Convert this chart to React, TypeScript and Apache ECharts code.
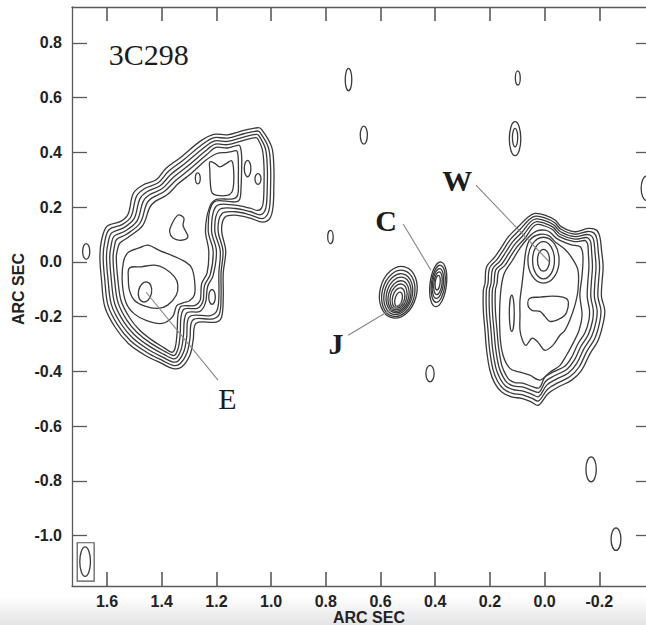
import React, { useEffect, useRef } from "react";
import * as echarts from "echarts";

// Axis ticks (arc sec)
const X_TICKS = [1.6, 1.4, 1.2, 1.0, 0.8, 0.6, 0.4, 0.2, 0.0, -0.2];
const Y_TICKS = [0.8, 0.6, 0.4, 0.2, 0.0, -0.2, -0.4, -0.6, -0.8, -1.0];
const X_MIN = -0.389;
const X_MAX = 1.728;
const Y_MIN = -1.184;
const Y_MAX = 0.931;

// ---- Eastern lobe (E) contours, [RA offset, Dec offset] in arc sec ----
const E_L1 = [[1.035,0.484],[0.998,0.420],[0.990,0.347],[0.990,0.274],[0.993,0.201],[1.004,0.160],[1.030,0.145],[1.077,0.160],[1.132,0.171],[1.169,0.163],[1.181,0.116],[1.166,0.040],[1.175,-0.041],[1.175,-0.129],[1.181,-0.202],[1.201,-0.220],[1.274,-0.224],[1.285,-0.286],[1.297,-0.341],[1.327,-0.384],[1.358,-0.390],[1.400,-0.371],[1.461,-0.341],[1.522,-0.298],[1.571,-0.238],[1.608,-0.164],[1.620,-0.067],[1.626,0.018],[1.620,0.079],[1.600,0.130],[1.550,0.148],[1.523,0.174],[1.504,0.250],[1.470,0.280],[1.420,0.300],[1.384,0.342],[1.330,0.382],[1.259,0.441],[1.210,0.466],[1.160,0.464],[1.100,0.480],[1.050,0.490]];
const E_L2 = [[1.040,0.472],[1.010,0.418],[1.002,0.347],[1.002,0.274],[1.005,0.205],[1.014,0.172],[1.034,0.158],[1.077,0.172],[1.132,0.183],[1.180,0.176],[1.194,0.116],[1.176,0.040],[1.183,-0.041],[1.183,-0.129],[1.189,-0.190],[1.212,-0.208],[1.286,-0.212],[1.297,-0.282],[1.308,-0.333],[1.333,-0.372],[1.358,-0.378],[1.398,-0.360],[1.457,-0.329],[1.514,-0.288],[1.560,-0.232],[1.596,-0.160],[1.608,-0.067],[1.614,0.018],[1.608,0.075],[1.592,0.118],[1.545,0.136],[1.512,0.166],[1.492,0.240],[1.462,0.268],[1.413,0.289],[1.375,0.331],[1.322,0.371],[1.252,0.429],[1.208,0.454],[1.160,0.452],[1.100,0.468],[1.052,0.478]];
const E_L3 = [[1.044,0.460],[1.021,0.414],[1.014,0.347],[1.014,0.274],[1.017,0.210],[1.024,0.184],[1.040,0.172],[1.077,0.184],[1.132,0.195],[1.190,0.190],[1.206,0.116],[1.186,0.040],[1.191,-0.041],[1.191,-0.129],[1.198,-0.178],[1.222,-0.196],[1.298,-0.200],[1.309,-0.278],[1.318,-0.325],[1.338,-0.360],[1.358,-0.366],[1.395,-0.349],[1.452,-0.318],[1.506,-0.278],[1.549,-0.226],[1.584,-0.156],[1.596,-0.067],[1.602,0.018],[1.596,0.070],[1.583,0.106],[1.540,0.124],[1.501,0.158],[1.480,0.230],[1.454,0.256],[1.406,0.278],[1.366,0.320],[1.314,0.360],[1.246,0.417],[1.206,0.442],[1.160,0.440],[1.100,0.456],[1.054,0.466]];
const E_L4 = [[1.048,0.448],[1.032,0.410],[1.026,0.347],[1.026,0.274],[1.029,0.215],[1.036,0.195],[1.050,0.188],[1.077,0.196],[1.132,0.207],[1.200,0.204],[1.218,0.116],[1.200,0.040],[1.212,-0.050],[1.232,-0.090],[1.238,-0.140],[1.246,-0.165],[1.262,-0.182],[1.310,-0.188],[1.321,-0.274],[1.328,-0.317],[1.343,-0.348],[1.358,-0.354],[1.392,-0.338],[1.447,-0.307],[1.498,-0.268],[1.538,-0.220],[1.572,-0.152],[1.584,-0.067],[1.590,0.018],[1.584,0.065],[1.574,0.094],[1.535,0.112],[1.490,0.150],[1.468,0.220],[1.446,0.244],[1.399,0.267],[1.357,0.309],[1.306,0.349],[1.240,0.405],[1.204,0.430],[1.160,0.428],[1.100,0.444],[1.056,0.454]];
const E_L5 = [[1.115,0.425],[1.108,0.390],[1.108,0.330],[1.110,0.270],[1.115,0.228],[1.132,0.219],[1.210,0.218],[1.230,0.116],[1.212,0.040],[1.222,-0.045],[1.243,-0.085],[1.248,-0.140],[1.256,-0.158],[1.270,-0.170],[1.322,-0.176],[1.333,-0.270],[1.338,-0.309],[1.348,-0.336],[1.358,-0.342],[1.389,-0.327],[1.442,-0.296],[1.490,-0.258],[1.527,-0.214],[1.560,-0.148],[1.572,-0.067],[1.578,0.018],[1.572,0.060],[1.565,0.082],[1.530,0.100],[1.479,0.142],[1.456,0.210],[1.438,0.232],[1.392,0.256],[1.348,0.298],[1.298,0.338],[1.234,0.393],[1.202,0.418],[1.160,0.416],[1.130,0.424]];
const E_L6 = [[1.125,0.405],[1.120,0.370],[1.120,0.300],[1.122,0.245],[1.140,0.230],[1.200,0.228],[1.225,0.200],[1.240,0.116],[1.228,0.040],[1.234,-0.040],[1.254,-0.080],[1.258,-0.135],[1.266,-0.150],[1.282,-0.160],[1.333,-0.166],[1.344,-0.262],[1.348,-0.300],[1.355,-0.325],[1.365,-0.330],[1.388,-0.316],[1.437,-0.285],[1.482,-0.248],[1.516,-0.206],[1.548,-0.144],[1.560,-0.067],[1.566,0.018],[1.560,0.052],[1.552,0.070],[1.522,0.090],[1.470,0.132],[1.444,0.198],[1.425,0.220],[1.380,0.245],[1.340,0.285],[1.290,0.325],[1.240,0.370],[1.200,0.395],[1.160,0.400],[1.140,0.404]];
const E_L7 = [[1.540,-0.001],[1.522,0.035],[1.480,0.052],[1.450,0.061],[1.403,0.039],[1.363,0.024],[1.312,-0.001],[1.290,-0.023],[1.280,-0.067],[1.280,-0.120],[1.298,-0.142],[1.322,-0.150],[1.345,-0.160],[1.360,-0.200],[1.399,-0.225],[1.455,-0.215],[1.500,-0.190],[1.530,-0.150],[1.544,-0.078]];
const E_L8 = [[1.518,-0.022],[1.475,-0.018],[1.426,-0.012],[1.389,-0.024],[1.353,-0.055],[1.341,-0.085],[1.347,-0.122],[1.378,-0.158],[1.414,-0.170],[1.461,-0.162],[1.500,-0.140],[1.518,-0.103],[1.522,-0.060]];
const E_NE_KNOT = [[1.224,0.365],[1.206,0.360],[1.188,0.347],[1.163,0.360],[1.144,0.369],[1.137,0.335],[1.137,0.285],[1.143,0.255],[1.160,0.243],[1.198,0.243],[1.216,0.252],[1.222,0.285],[1.224,0.335]];
const E_BLOB = [[1.340,0.171],[1.365,0.134],[1.371,0.110],[1.359,0.087],[1.329,0.079],[1.304,0.091],[1.315,0.116],[1.322,0.134],[1.319,0.160]];

// ---- Western lobe (W) contours ----
const W_L1 = [[0.035,0.177],[-0.001,0.171],[-0.038,0.153],[-0.062,0.128],[-0.111,0.110],[-0.159,0.122],[-0.190,0.116],[-0.202,0.091],[-0.208,0.043],[-0.214,-0.018],[-0.210,-0.074],[-0.208,-0.128],[-0.220,-0.177],[-0.214,-0.225],[-0.196,-0.286],[-0.166,-0.335],[-0.135,-0.396],[-0.099,-0.432],[-0.050,-0.457],[-0.013,-0.481],[0.023,-0.524],[0.048,-0.512],[0.084,-0.499],[0.121,-0.493],[0.157,-0.475],[0.182,-0.444],[0.200,-0.396],[0.212,-0.323],[0.218,-0.250],[0.224,-0.177],[0.224,-0.103],[0.218,-0.079],[0.212,-0.018],[0.182,0.018],[0.157,0.055],[0.133,0.091],[0.097,0.128],[0.060,0.164]];
const W_L2 = [[0.033,0.167],[-0.001,0.161],[-0.036,0.144],[-0.060,0.119],[-0.111,0.101],[-0.157,0.111],[-0.181,0.105],[-0.191,0.084],[-0.196,0.040],[-0.201,-0.018],[-0.197,-0.074],[-0.195,-0.128],[-0.206,-0.177],[-0.201,-0.222],[-0.184,-0.279],[-0.155,-0.326],[-0.126,-0.384],[-0.093,-0.419],[-0.046,-0.443],[-0.010,-0.466],[0.022,-0.508],[0.047,-0.498],[0.083,-0.485],[0.118,-0.480],[0.150,-0.464],[0.172,-0.436],[0.189,-0.392],[0.201,-0.321],[0.207,-0.250],[0.213,-0.177],[0.213,-0.103],[0.207,-0.079],[0.201,-0.022],[0.173,0.010],[0.149,0.046],[0.125,0.082],[0.090,0.118],[0.056,0.155]];
const W_L3 = [[0.031,0.157],[-0.001,0.151],[-0.034,0.135],[-0.058,0.110],[-0.111,0.092],[-0.155,0.100],[-0.172,0.094],[-0.180,0.077],[-0.184,0.037],[-0.188,-0.018],[-0.184,-0.074],[-0.182,-0.128],[-0.192,-0.177],[-0.188,-0.219],[-0.172,-0.272],[-0.144,-0.317],[-0.117,-0.372],[-0.087,-0.406],[-0.042,-0.429],[-0.007,-0.451],[0.021,-0.492],[0.046,-0.484],[0.082,-0.471],[0.115,-0.467],[0.143,-0.453],[0.162,-0.428],[0.178,-0.388],[0.190,-0.319],[0.196,-0.250],[0.202,-0.177],[0.202,-0.103],[0.196,-0.079],[0.190,-0.026],[0.164,0.002],[0.141,0.037],[0.117,0.073],[0.083,0.108],[0.052,0.146]];
const W_L4 = [[0.029,0.147],[-0.001,0.141],[-0.032,0.126],[-0.056,0.101],[-0.110,0.083],[-0.152,0.089],[-0.163,0.083],[-0.169,0.070],[-0.172,0.034],[-0.175,-0.018],[-0.171,-0.074],[-0.169,-0.128],[-0.178,-0.177],[-0.175,-0.216],[-0.160,-0.265],[-0.133,-0.308],[-0.108,-0.360],[-0.081,-0.393],[-0.038,-0.415],[-0.004,-0.436],[0.020,-0.476],[0.045,-0.470],[0.081,-0.457],[0.112,-0.454],[0.136,-0.442],[0.152,-0.420],[0.167,-0.384],[0.179,-0.317],[0.185,-0.250],[0.191,-0.177],[0.191,-0.103],[0.185,-0.079],[0.179,-0.030],[0.155,-0.006],[0.133,0.028],[0.109,0.064],[0.076,0.100],[0.048,0.136]];
const W_L5 = [[0.027,0.137],[-0.001,0.131],[-0.030,0.117],[-0.054,0.092],[-0.108,0.074],[-0.148,0.078],[-0.154,0.072],[-0.158,0.063],[-0.160,0.031],[-0.162,-0.018],[-0.158,-0.074],[-0.156,-0.128],[-0.164,-0.177],[-0.162,-0.213],[-0.148,-0.258],[-0.122,-0.299],[-0.099,-0.348],[-0.075,-0.380],[-0.034,-0.401],[-0.001,-0.421],[0.019,-0.460],[0.044,-0.456],[0.080,-0.443],[0.109,-0.441],[0.129,-0.431],[0.142,-0.412],[0.156,-0.380],[0.168,-0.315],[0.174,-0.250],[0.180,-0.177],[0.180,-0.103],[0.174,-0.079],[0.168,-0.034],[0.146,-0.014],[0.125,0.019],[0.101,0.055],[0.069,0.090],[0.044,0.126]];
const W_L6 = [[0.030,0.112],[-0.001,0.116],[-0.020,0.108],[-0.045,0.085],[-0.095,0.063],[-0.130,0.055],[-0.140,0.024],[-0.137,-0.049],[-0.129,-0.122],[-0.137,-0.195],[-0.126,-0.250],[-0.100,-0.305],[-0.080,-0.341],[-0.056,-0.378],[-0.019,-0.403],[0.017,-0.432],[0.054,-0.414],[0.090,-0.403],[0.127,-0.389],[0.152,-0.341],[0.163,-0.268],[0.163,-0.140],[0.150,-0.049],[0.118,0.005],[0.090,0.050],[0.060,0.088]];
const W_L7 = [[0.054,0.080],[0.020,0.100],[-0.015,0.096],[-0.040,0.072],[-0.074,0.046],[-0.100,0.014],[-0.122,-0.030],[-0.122,-0.103],[-0.111,-0.158],[-0.092,-0.213],[-0.074,-0.250],[-0.056,-0.268],[-0.030,-0.305],[-0.001,-0.323],[0.024,-0.294],[0.046,-0.279],[0.068,-0.305],[0.081,-0.286],[0.090,-0.250],[0.090,-0.195],[0.090,-0.140],[0.083,-0.085],[0.076,-0.023],[0.068,0.043]];
const W_BLOB = [[0.054,-0.133],[0.017,-0.129],[-0.027,-0.125],[-0.067,-0.129],[-0.085,-0.140],[-0.085,-0.169],[-0.074,-0.195],[-0.045,-0.213],[-0.019,-0.217],[-0.001,-0.199],[0.017,-0.181],[0.046,-0.177],[0.061,-0.158]];

const CONTOURS = [E_L1, E_L2, E_L3, E_L4, E_L5, E_L6, E_L7, E_L8, E_NE_KNOT, E_BLOB,
  W_L1, W_L2, W_L3, W_L4, W_L5, W_L6, W_L7, W_BLOB];

// Elliptical contours: [centre x, centre y, semi-axis x, semi-axis y, tilt (rad)]
const J_RINGS = [[0.535,-0.111,0.067,0.096,-0.25],[0.535,-0.115,0.059,0.086,-0.25],[0.535,-0.118,0.051,0.076,-0.25],[0.534,-0.121,0.044,0.066,-0.25],[0.534,-0.125,0.037,0.057,-0.25],[0.534,-0.128,0.030,0.048,-0.25],[0.534,-0.132,0.022,0.038,-0.25],[0.534,-0.137,0.013,0.027,-0.25]];
const C_RINGS = [[0.389,-0.082,0.030,0.082,-0.12],[0.389,-0.080,0.025,0.068,-0.12],[0.390,-0.079,0.020,0.055,-0.12],[0.390,-0.078,0.015,0.042,-0.12],[0.391,-0.076,0.009,0.027,-0.12]];
const W_CORE = [[0.004,0.006,0.022,0.040,0],[0.004,0.006,0.040,0.068,0],[0.004,0.006,0.057,0.084,0]];
const E_SPOTS = [[1.461,-0.110,0.024,0.037,-0.2],[1.216,-0.128,0.012,0.027,0],[1.086,0.341,0.012,0.030,0],[1.048,0.303,0.011,0.0195,0],[1.268,0.305,0.009,0.020,0]];
const W_SPOTS = [[0.120,-0.188,0.009,0.066,0]];
const NOISE = [[0.717,0.666,0.012,0.041,0],[0.661,0.463,0.013,0.033,0],[0.098,0.672,0.009,0.026,0],[0.108,0.450,0.021,0.062,0],[0.108,0.454,0.0097,0.0335,0],[0.783,0.091,0.010,0.024,0],[1.676,0.038,0.013,0.029,0],[-0.373,0.269,0.020,0.045,0],[0.419,-0.408,0.015,0.030,0],[-0.170,-0.758,0.019,0.046,0],[-0.261,-1.013,0.018,0.041,0]];
const BEAM = [[1.680,-1.095,0.0195,0.0536,0]];
const BEAM_BOX = [[1.709,-1.026],[1.647,-1.026],[1.647,-1.166],[1.709,-1.166]];

const ELLIPSES = [...J_RINGS, ...C_RINGS, ...W_CORE, ...E_SPOTS, ...W_SPOTS, ...NOISE, ...BEAM];

// Leader lines [x1, y1, x2, y2]
const LEADERS = [[1.457,-0.111,1.194,-0.432],[0.718,-0.268,0.514,-0.146],[0.517,0.138,0.416,-0.030],[0.251,0.280,-0.017,0.000]];

// Labels [x, y]
const LABEL_TEXT = ["3C298", "E", "J", "C", "W"];
const LABEL_POS = [[1.447,0.759],[1.160,-0.498],[0.763,-0.297],[0.580,0.152],[0.319,0.299]];
const LABEL_WEIGHT = ["normal", "normal", "bold", "bold", "bold"];

const LINE = "#3a3a3a";
const AXIS = "#5a5a5a";
const SANS = "'Liberation Sans', Arial, sans-serif";
const SERIF = "'Liberation Serif', 'Times New Roman', serif";
const TICK_LEN = 14;

export default function App() {
  const ref = useRef<HTMLDivElement>(null);
  useEffect(() => {
    const chart = echarts.init(ref.current as HTMLDivElement, null, { renderer: "svg" });
    const fmt = (v: number) => (Math.abs(v) < 1e-9 ? "0.0" : v.toFixed(1));
    const tickStyle = { color: AXIS, width: 1.3 };
    const xTickStyle = { color: AXIS, width: 1.6 };
    const option: any = {
      animation: false,
      backgroundColor: "#ffffff",
      grid: { left: 72, right: -5, top: 7, bottom: 39, outerBoundsMode: "none", containLabel: false },
      xAxis: [
        {
          type: "value", position: "bottom", inverse: true, min: X_MIN, max: X_MAX,
          axisLine: { show: true, onZero: false, lineStyle: tickStyle },
          axisTick: { show: true, inside: true, length: TICK_LEN, customValues: X_TICKS, lineStyle: xTickStyle },
          axisLabel: { show: true, customValues: X_TICKS, formatter: fmt, fontFamily: SANS, fontWeight: "bold", fontSize: 16, color: "#222", margin: 7 },
          splitLine: { show: false },
        },
        {
          type: "value", position: "top", inverse: true, min: X_MIN, max: X_MAX,
          axisLine: { show: true, onZero: false, lineStyle: tickStyle },
          axisTick: { show: true, inside: true, length: TICK_LEN, customValues: X_TICKS, lineStyle: xTickStyle },
          axisLabel: { show: false },
          splitLine: { show: false },
        },
      ],
      yAxis: [
        {
          type: "value", position: "left", min: Y_MIN, max: Y_MAX,
          axisLine: { show: true, onZero: false, lineStyle: tickStyle },
          axisTick: { show: true, inside: true, length: 15, customValues: Y_TICKS, lineStyle: tickStyle },
          axisLabel: { show: true, customValues: Y_TICKS, formatter: fmt, fontFamily: SANS, fontWeight: "bold", fontSize: 16, color: "#222", margin: 10 },
          splitLine: { show: false },
        },
        {
          type: "value", position: "right", min: Y_MIN, max: Y_MAX,
          axisLine: { show: true, onZero: false, lineStyle: tickStyle },
          axisTick: { show: true, inside: true, length: 15, customValues: Y_TICKS, lineStyle: tickStyle },
          axisLabel: { show: false },
          splitLine: { show: false },
        },
      ],
      graphic: [
        {
          type: "rect", z: -10, silent: true,
          shape: { x: 0, y: 596, width: 646, height: 29 },
          style: {
            fill: new echarts.graphic.LinearGradient(0, 0, 0, 1, [
              { offset: 0, color: "#ffffff" },
              { offset: 1, color: "#e4e4e4" },
            ]),
          },
        },
        {
          type: "text", x: 369, y: 617,
          style: { text: "ARC SEC", fontFamily: SANS, fontWeight: "bold", fontSize: 16, fill: "#222", align: "center", verticalAlign: "middle" },
        },
        {
          type: "text", x: 18, y: 289, rotation: Math.PI / 2,
          style: { text: "ARC SEC", fontFamily: SANS, fontWeight: "bold", fontSize: 16, fill: "#222", align: "center", verticalAlign: "middle" },
        },
      ],
      series: [
        {
          type: "custom", name: "contours", clip: false,
          data: CONTOURS.map((c) => [c[0][0], c[0][1]]),
          renderItem: (params: any, api: any) => {
            const pts = CONTOURS[params.dataIndex].map((p) => api.coord(p));
            return {
              type: "polygon",
              shape: { points: pts, smooth: 0.35 },
              style: { fill: "none", stroke: LINE, lineWidth: 1.3 },
            };
          },
        },
        {
          type: "custom", name: "ellipses", clip: false,
          data: ELLIPSES.map((e) => [e[0], e[1]]),
          renderItem: (params: any, api: any) => {
            const e = ELLIPSES[params.dataIndex];
            const c = api.coord([e[0], e[1]]);
            const s = api.size([e[2], e[3]]);
            return {
              type: "ellipse", x: c[0], y: c[1], rotation: e[4],
              shape: { cx: 0, cy: 0, rx: Math.abs(s[0]), ry: Math.abs(s[1]) },
              style: { fill: "none", stroke: LINE, lineWidth: 1.3 },
            };
          },
        },
        {
          type: "custom", name: "beam box", clip: false,
          data: [[BEAM_BOX[0][0], BEAM_BOX[0][1]]],
          renderItem: (params: any, api: any) => ({
            type: "polygon",
            shape: { points: BEAM_BOX.map((p) => api.coord(p)) },
            style: { fill: "none", stroke: "#555", lineWidth: 1.2 },
          }),
        },
        {
          type: "custom", name: "leaders", clip: false,
          data: LEADERS.map((l) => [l[0], l[1]]),
          renderItem: (params: any, api: any) => {
            const l = LEADERS[params.dataIndex];
            const a = api.coord([l[0], l[1]]);
            const b = api.coord([l[2], l[3]]);
            return {
              type: "line",
              shape: { x1: a[0], y1: a[1], x2: b[0], y2: b[1] },
              style: { stroke: "#858585", lineWidth: 1.1 },
            };
          },
        },
        {
          type: "custom", name: "labels", clip: false,
          data: LABEL_POS.map((p) => [p[0], p[1]]),
          renderItem: (params: any, api: any) => {
            const i = params.dataIndex;
            const c = api.coord(LABEL_POS[i]);
            return {
              type: "text", x: c[0], y: c[1],
              style: {
                text: LABEL_TEXT[i], fontFamily: SERIF, fontSize: 30, fontWeight: LABEL_WEIGHT[i],
                fill: "#1c1c1c", align: "center", verticalAlign: "middle",
              },
            };
          },
        },
      ],
    };
    chart.setOption(option);
    return () => chart.dispose();
  }, []);
  return <div ref={ref} style={{ position: "absolute", left: 0, top: 0, width: 646, height: 625 }} />;
}
